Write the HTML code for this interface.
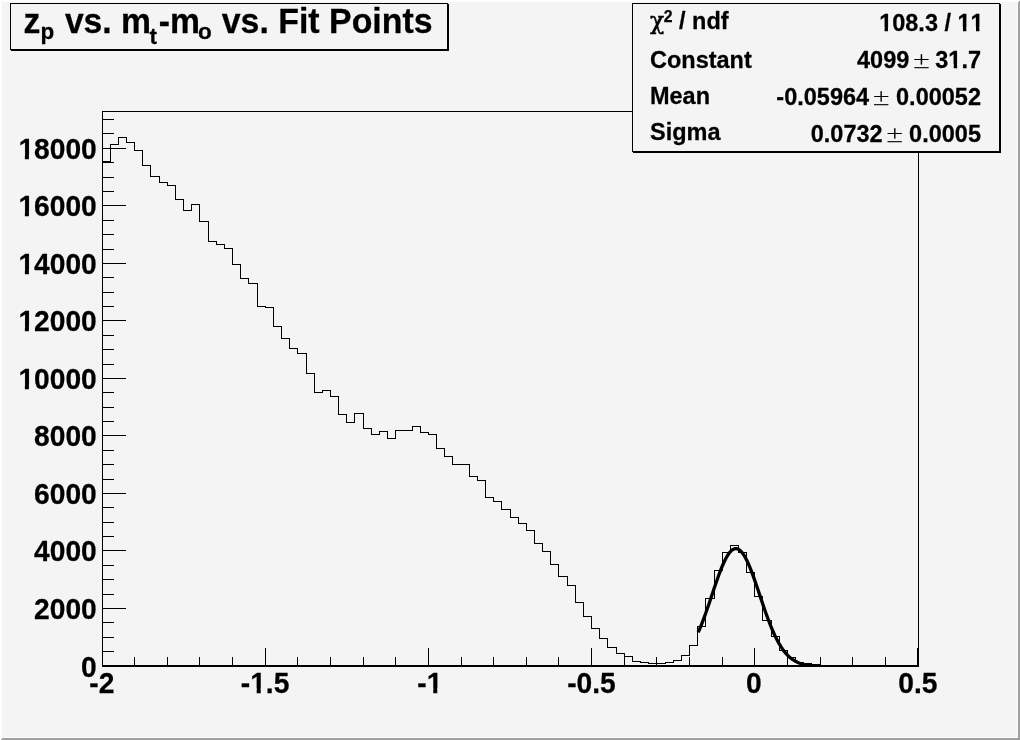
<!DOCTYPE html>
<html><head><meta charset="utf-8"><title>z_p vs. m_t-m_o vs. Fit Points</title>
<style>html,body{margin:0;padding:0;background:#f4f4f4;overflow:hidden}svg{display:block;filter:grayscale(1)}text{font-family:"Liberation Sans",sans-serif;font-weight:bold;fill:#000;font-kerning:none;stroke:#000;stroke-width:0.25px}.sym2{font-family:"DejaVu Serif","Liberation Serif",serif;font-weight:normal;font-style:normal;stroke:#000;stroke-width:0.5px}.pm{font-family:"DejaVu Sans Light","DejaVu Sans",sans-serif;font-weight:200;stroke:#000;stroke-width:0.35px}.cr{shape-rendering:crispEdges}</style></head><body>
<svg width="1020" height="740" viewBox="0 0 1020 740">
<rect x="0" y="0" width="1020" height="740" fill="#f4f4f4"/>
<g class="cr">
<rect x="0" y="0" width="1020" height="2" fill="#fdfdfd"/>
<rect x="0" y="0" width="2" height="740" fill="#fdfdfd"/>
<polygon points="1020,0 1020,740 0,740 2,738 1018,738 1018,2" fill="#a0a0a0"/>
<rect x="2" y="737" width="1015" height="1" fill="#fbfbfb"/>
<rect x="1017" y="2" width="1" height="736" fill="#fbfbfb"/>
</g>
<g class="cr" fill="none" stroke="#000" stroke-width="1">
<rect x="102.5" y="111.5" width="816" height="554"/>
<line x1="102" y1="666.5" x2="919" y2="666.5"/>
<line x1="102.5" y1="648" x2="102.5" y2="667"/>
<line x1="134.5" y1="657" x2="134.5" y2="667"/>
<line x1="167.5" y1="657" x2="167.5" y2="667"/>
<line x1="199.5" y1="657" x2="199.5" y2="667"/>
<line x1="232.5" y1="657" x2="232.5" y2="667"/>
<line x1="265.5" y1="648" x2="265.5" y2="667"/>
<line x1="297.5" y1="657" x2="297.5" y2="667"/>
<line x1="330.5" y1="657" x2="330.5" y2="667"/>
<line x1="363.5" y1="657" x2="363.5" y2="667"/>
<line x1="395.5" y1="657" x2="395.5" y2="667"/>
<line x1="428.5" y1="648" x2="428.5" y2="667"/>
<line x1="461.5" y1="657" x2="461.5" y2="667"/>
<line x1="493.5" y1="657" x2="493.5" y2="667"/>
<line x1="526.5" y1="657" x2="526.5" y2="667"/>
<line x1="558.5" y1="657" x2="558.5" y2="667"/>
<line x1="591.5" y1="648" x2="591.5" y2="667"/>
<line x1="624.5" y1="657" x2="624.5" y2="667"/>
<line x1="656.5" y1="657" x2="656.5" y2="667"/>
<line x1="689.5" y1="657" x2="689.5" y2="667"/>
<line x1="722.5" y1="657" x2="722.5" y2="667"/>
<line x1="754.5" y1="648" x2="754.5" y2="667"/>
<line x1="787.5" y1="657" x2="787.5" y2="667"/>
<line x1="820.5" y1="657" x2="820.5" y2="667"/>
<line x1="852.5" y1="657" x2="852.5" y2="667"/>
<line x1="885.5" y1="657" x2="885.5" y2="667"/>
<line x1="918.5" y1="648" x2="918.5" y2="667"/>
<line x1="917.5" y1="648" x2="917.5" y2="667"/>
<line x1="102" y1="666.5" x2="126" y2="666.5"/>
<line x1="102" y1="651.5" x2="114" y2="651.5"/>
<line x1="102" y1="637.5" x2="114" y2="637.5"/>
<line x1="102" y1="622.5" x2="114" y2="622.5"/>
<line x1="102" y1="608.5" x2="126" y2="608.5"/>
<line x1="102" y1="594.5" x2="114" y2="594.5"/>
<line x1="102" y1="579.5" x2="114" y2="579.5"/>
<line x1="102" y1="565.5" x2="114" y2="565.5"/>
<line x1="102" y1="550.5" x2="126" y2="550.5"/>
<line x1="102" y1="536.5" x2="114" y2="536.5"/>
<line x1="102" y1="522.5" x2="114" y2="522.5"/>
<line x1="102" y1="507.5" x2="114" y2="507.5"/>
<line x1="102" y1="493.5" x2="126" y2="493.5"/>
<line x1="102" y1="479.5" x2="114" y2="479.5"/>
<line x1="102" y1="464.5" x2="114" y2="464.5"/>
<line x1="102" y1="450.5" x2="114" y2="450.5"/>
<line x1="102" y1="435.5" x2="126" y2="435.5"/>
<line x1="102" y1="421.5" x2="114" y2="421.5"/>
<line x1="102" y1="407.5" x2="114" y2="407.5"/>
<line x1="102" y1="392.5" x2="114" y2="392.5"/>
<line x1="102" y1="378.5" x2="126" y2="378.5"/>
<line x1="102" y1="364.5" x2="114" y2="364.5"/>
<line x1="102" y1="349.5" x2="114" y2="349.5"/>
<line x1="102" y1="335.5" x2="114" y2="335.5"/>
<line x1="102" y1="320.5" x2="126" y2="320.5"/>
<line x1="102" y1="306.5" x2="114" y2="306.5"/>
<line x1="102" y1="292.5" x2="114" y2="292.5"/>
<line x1="102" y1="277.5" x2="114" y2="277.5"/>
<line x1="102" y1="263.5" x2="126" y2="263.5"/>
<line x1="102" y1="249.5" x2="114" y2="249.5"/>
<line x1="102" y1="234.5" x2="114" y2="234.5"/>
<line x1="102" y1="220.5" x2="114" y2="220.5"/>
<line x1="102" y1="205.5" x2="126" y2="205.5"/>
<line x1="102" y1="191.5" x2="114" y2="191.5"/>
<line x1="102" y1="177.5" x2="114" y2="177.5"/>
<line x1="102" y1="162.5" x2="114" y2="162.5"/>
<line x1="102" y1="148.5" x2="126" y2="148.5"/>
<line x1="102" y1="133.5" x2="114" y2="133.5"/>
<line x1="102" y1="119.5" x2="114" y2="119.5"/>
<polyline points="102.5,666.5 102.5,161.5 110.5,161.5 110.5,144.5 118.5,144.5 118.5,137.5 126.5,137.5 126.5,142.5 134.5,142.5 134.5,150.5 142.5,150.5 142.5,165.5 150.5,165.5 150.5,176.5 159.5,176.5 159.5,182.5 167.5,182.5 167.5,185.5 175.5,185.5 175.5,199.5 183.5,199.5 183.5,210.5 191.5,210.5 191.5,204.5 199.5,204.5 199.5,221.5 208.5,221.5 208.5,241.5 216.5,241.5 216.5,244.5 224.5,244.5 224.5,248.5 232.5,248.5 232.5,264.5 240.5,264.5 240.5,278.5 248.5,278.5 248.5,283.5 257.5,283.5 257.5,306.5 265.5,306.5 265.5,307.5 273.5,307.5 273.5,326.5 281.5,326.5 281.5,338.5 289.5,338.5 289.5,348.5 297.5,348.5 297.5,353.5 306.5,353.5 306.5,373.5 314.5,373.5 314.5,392.5 322.5,392.5 322.5,390.5 330.5,390.5 330.5,396.5 338.5,396.5 338.5,414.5 346.5,414.5 346.5,422.5 354.5,422.5 354.5,413.5 363.5,413.5 363.5,428.5 371.5,428.5 371.5,434.5 379.5,434.5 379.5,431.5 387.5,431.5 387.5,438.5 395.5,438.5 395.5,430.5 403.5,430.5 403.5,430.5 412.5,430.5 412.5,426.5 420.5,426.5 420.5,432.5 428.5,432.5 428.5,434.5 436.5,434.5 436.5,448.5 444.5,448.5 444.5,456.5 452.5,456.5 452.5,464.5 461.5,464.5 461.5,464.5 469.5,464.5 469.5,476.5 477.5,476.5 477.5,480.5 485.5,480.5 485.5,497.5 493.5,497.5 493.5,501.5 501.5,501.5 501.5,509.5 510.5,509.5 510.5,517.5 518.5,517.5 518.5,523.5 526.5,523.5 526.5,530.5 534.5,530.5 534.5,543.5 542.5,543.5 542.5,551.5 550.5,551.5 550.5,564.5 558.5,564.5 558.5,576.5 567.5,576.5 567.5,585.5 575.5,585.5 575.5,602.5 583.5,602.5 583.5,616.5 591.5,616.5 591.5,628.5 599.5,628.5 599.5,638.5 607.5,638.5 607.5,647.5 616.5,647.5 616.5,653.5 624.5,653.5 624.5,656.5 632.5,656.5 632.5,661.5 640.5,661.5 640.5,662.5 648.5,662.5 648.5,663.5 656.5,663.5 656.5,663.5 665.5,663.5 665.5,662.5 673.5,662.5 673.5,660.5 681.5,660.5 681.5,655.5 689.5,655.5 689.5,645.5 697.5,645.5 697.5,626.5 705.5,626.5 705.5,598.5 714.5,598.5 714.5,570.5 722.5,570.5 722.5,552.5 730.5,552.5 730.5,545.5 738.5,545.5 738.5,552.5 746.5,552.5 746.5,572.5 754.5,572.5 754.5,596.5 762.5,596.5 762.5,620.5 771.5,620.5 771.5,636.5 779.5,636.5 779.5,650.5 787.5,650.5 787.5,657.5 795.5,657.5 795.5,662.5 803.5,662.5 803.5,663.5 811.5,663.5 811.5,664.5 820.5,664.5 820.5,665.5 828.5,665.5 828.5,665.5 836.5,665.5 836.5,665.5 844.5,665.5 844.5,665.5 852.5,665.5 852.5,665.5 860.5,665.5 860.5,665.5 869.5,665.5 869.5,665.5 877.5,665.5 877.5,665.5 885.5,665.5 885.5,665.5 893.5,665.5 893.5,665.5 901.5,665.5 901.5,665.5 909.5,665.5 909.5,665.5 918.5,665.5"/>
</g>
<clipPath id="fc"><rect x="102" y="111" width="817" height="556"/></clipPath>
<polyline clip-path="url(#fc)" fill="none" stroke="#000" stroke-width="3.3" stroke-linejoin="round" points="698.18,632.45 699.40,629.63 700.63,626.69 701.85,623.63 703.08,620.45 704.30,617.16 705.52,613.78 706.75,610.31 707.97,606.78 709.20,603.18 710.42,599.55 711.64,595.89 712.87,592.23 714.09,588.58 715.32,584.97 716.54,581.42 717.76,577.94 718.99,574.56 720.21,571.31 721.44,568.19 722.66,565.24 723.88,562.48 725.11,559.92 726.33,557.58 727.56,555.49 728.78,553.65 730.00,552.08 731.23,550.79 732.45,549.80 733.68,549.10 734.90,548.71 736.12,548.63 737.35,548.86 738.57,549.39 739.80,550.23 741.02,551.37 742.24,552.79 743.47,554.49 744.69,556.45 745.92,558.66 747.14,561.11 748.36,563.77 749.59,566.62 750.81,569.65 752.04,572.84 753.26,576.15 754.48,579.58 755.71,583.10 756.93,586.68 758.16,590.31 759.38,593.97 760.60,597.63 761.83,601.28 763.05,604.89 764.28,608.46 765.50,611.97 766.72,615.40 767.95,618.73 769.17,621.97 770.40,625.10 771.62,628.10 772.84,630.99 774.07,633.74 775.29,636.36 776.52,638.84 777.74,641.18 778.96,643.39 780.19,645.46 781.41,647.39 782.64,649.19 783.86,650.87 785.08,652.42 786.31,653.84 787.53,655.16 788.76,656.36 789.98,657.46 791.20,658.46 792.43,659.37 793.65,660.19 794.88,660.94 796.10,661.60 797.32,662.20 798.55,662.74 799.77,663.22 801.00,663.64 802.22,664.02 803.44,664.35 804.67,664.64 805.89,664.90 807.12,665.12 808.34,665.32 809.56,665.49 810.79,665.64 812.01,665.77 813.24,665.88 814.46,665.98 815.68,666.06 816.91,666.13 818.13,666.19 819.36,666.24 820.58,666.28"/>
<text x="96.8" y="676.9" font-size="28.2" text-anchor="end" transform="matrix(1 0 0 1.028 0 -18.953)">0</text>
<text x="96.8" y="618.9" font-size="28.2" text-anchor="end" transform="matrix(1 0 0 1.028 0 -17.329)">2000</text>
<text x="96.8" y="560.9" font-size="28.2" text-anchor="end" transform="matrix(1 0 0 1.028 0 -15.705)">4000</text>
<text x="96.8" y="503.9" font-size="28.2" text-anchor="end" transform="matrix(1 0 0 1.028 0 -14.109)">6000</text>
<text x="96.8" y="445.9" font-size="28.2" text-anchor="end" transform="matrix(1 0 0 1.028 0 -12.485)">8000</text>
<text x="96.8" y="388.9" font-size="28.2" text-anchor="end" transform="matrix(1 0 0 1.028 0 -10.889)">10000</text>
<text x="96.8" y="330.9" font-size="28.2" text-anchor="end" transform="matrix(1 0 0 1.028 0 -9.265)">12000</text>
<text x="96.8" y="273.9" font-size="28.2" text-anchor="end" transform="matrix(1 0 0 1.028 0 -7.669)">14000</text>
<text x="96.8" y="215.9" font-size="28.2" text-anchor="end" transform="matrix(1 0 0 1.028 0 -6.045)">16000</text>
<text x="96.8" y="158.9" font-size="28.2" text-anchor="end" transform="matrix(1 0 0 1.028 0 -4.449)">18000</text>
<text x="101.9" y="692.6" font-size="28.2" text-anchor="middle" transform="matrix(1 0 0 1.028 0 -19.393)">-2</text>
<text x="265.1" y="692.6" font-size="28.2" text-anchor="middle" transform="matrix(1 0 0 1.028 0 -19.393)">-1.5</text>
<text x="429.9" y="692.6" font-size="28.2" text-anchor="middle" transform="matrix(1 0 0 1.028 0 -19.393)">-1</text>
<text x="591.5" y="692.6" font-size="28.2" text-anchor="middle" transform="matrix(1 0 0 1.028 0 -19.393)">-0.5</text>
<text x="753.9" y="692.6" font-size="28.2" text-anchor="middle" transform="matrix(1 0 0 1.028 0 -19.393)">0</text>
<text x="917.9" y="692.6" font-size="28.2" text-anchor="middle" transform="matrix(1 0 0 1.028 0 -19.393)">0.5</text>
<g class="cr"><rect x="11" y="4" width="438" height="47" fill="#000"/><rect x="10" y="3" width="438" height="47" fill="#000"/><rect x="11" y="4" width="436" height="45" fill="#f4f4f4"/></g>
<text x="23.50" y="32.8" font-size="33.7" transform="matrix(1 0 0 1.02 0 -0.656)">z</text>
<text x="40.50" y="39.3" font-size="22.5" transform="matrix(1 0 0 1.02 0 -0.786)">p</text>
<text x="64.90" y="32.8" font-size="33.7" transform="matrix(1 0 0 1.02 0 -0.656)">vs.</text>
<text x="121.00" y="32.8" font-size="33.7" transform="matrix(1 0 0 1.02 0 -0.656)">m</text>
<text x="149.50" y="44.0" font-size="22.5" transform="matrix(1 0 0 1.02 0 -0.880)">t</text>
<text x="158.70" y="32.8" font-size="33.7" transform="matrix(1 0 0 1.02 0 -0.656)">-m</text>
<text x="198.00" y="39.5" font-size="22.5" transform="matrix(1 0 0 1.02 0 -0.790)">o</text>
<text x="221.70" y="32.8" font-size="33.9" transform="matrix(1 0 0 1.02 0 -0.656)">vs. Fit Points</text>
<g class="cr"><rect x="633" y="4" width="368" height="149" fill="#000"/><rect x="632" y="3" width="368" height="149" fill="#000"/><rect x="633" y="4" width="366" height="147" fill="#f4f4f4"/></g>
<text x="649.9" y="29.0" font-size="23.5" class="sym2">χ</text>
<text x="663.8" y="21.8" font-size="15.8">2</text>
<text x="679.0" y="29.2" font-size="23.5" transform="matrix(1 0 0 1.02 0 -0.584)">/ ndf</text>
<text x="983.7" y="30.6" font-size="23.5" text-anchor="end" transform="matrix(1 0 0 1.028 0 -0.857)">108.3 / 11</text>
<text x="650" y="67.8" font-size="23.5" transform="matrix(1 0 0 1.02 0 -1.356)">Constant</text>
<text x="909.3" y="67.7" font-size="23.5" text-anchor="end" transform="matrix(1 0 0 1.028 0 -1.896)">4099</text>
<text x="921.5" y="67.7" font-size="22" text-anchor="middle" class="pm">±</text>
<text x="981.0" y="67.7" font-size="23.5" text-anchor="end" transform="matrix(1 0 0 1.028 0 -1.896)">31.7</text>
<text x="650" y="104.4" font-size="23.5" transform="matrix(1 0 0 1.02 0 -2.088)">Mean</text>
<text x="869.1" y="104.6" font-size="23.5" text-anchor="end" transform="matrix(1 0 0 1.028 0 -2.929)">-0.05964</text>
<text x="881.3" y="104.6" font-size="22" text-anchor="middle" class="pm">±</text>
<text x="981.0" y="104.6" font-size="23.5" text-anchor="end" transform="matrix(1 0 0 1.028 0 -2.929)">0.00052</text>
<text x="650" y="139.7" font-size="23.5" transform="matrix(1 0 0 1.02 0 -2.794)">Sigma</text>
<text x="882.6" y="141.7" font-size="23.5" text-anchor="end" transform="matrix(1 0 0 1.028 0 -3.968)">0.0732</text>
<text x="894.8" y="141.7" font-size="22" text-anchor="middle" class="pm">±</text>
<text x="981.0" y="141.7" font-size="23.5" text-anchor="end" transform="matrix(1 0 0 1.028 0 -3.968)">0.0005</text>
<rect x="18.95" y="384.67" width="5.91" height="7.33" fill="#f4f4f4"/>
<rect x="28.92" y="384.67" width="5.82" height="7.33" fill="#f4f4f4"/>
<rect x="18.95" y="326.67" width="5.91" height="7.33" fill="#f4f4f4"/>
<rect x="28.92" y="326.67" width="5.82" height="7.33" fill="#f4f4f4"/>
<rect x="18.95" y="269.67" width="5.91" height="7.33" fill="#f4f4f4"/>
<rect x="28.92" y="269.67" width="5.82" height="7.33" fill="#f4f4f4"/>
<rect x="18.95" y="211.67" width="5.91" height="7.33" fill="#f4f4f4"/>
<rect x="28.92" y="211.67" width="5.82" height="7.33" fill="#f4f4f4"/>
<rect x="18.95" y="154.67" width="5.91" height="7.33" fill="#f4f4f4"/>
<rect x="28.92" y="154.67" width="5.82" height="7.33" fill="#f4f4f4"/>
<rect x="250.76" y="688.37" width="5.91" height="7.33" fill="#f4f4f4"/>
<rect x="260.73" y="688.37" width="5.82" height="7.33" fill="#f4f4f4"/>
<rect x="427.32" y="688.37" width="5.91" height="7.33" fill="#f4f4f4"/>
<rect x="437.29" y="688.37" width="5.82" height="7.33" fill="#f4f4f4"/>
<rect x="879.64" y="27.08" width="4.91" height="6.11" fill="#f4f4f4"/>
<rect x="887.96" y="27.08" width="4.83" height="6.11" fill="#f4f4f4"/>
<rect x="958.03" y="27.08" width="4.91" height="6.11" fill="#f4f4f4"/>
<rect x="966.36" y="27.08" width="4.83" height="6.11" fill="#f4f4f4"/>
<rect x="971.10" y="27.08" width="4.91" height="6.11" fill="#f4f4f4"/>
<rect x="979.43" y="27.08" width="4.83" height="6.11" fill="#f4f4f4"/>
<rect x="948.80" y="64.17" width="4.91" height="6.11" fill="#f4f4f4"/>
<rect x="957.13" y="64.17" width="4.83" height="6.11" fill="#f4f4f4"/>
</svg></body></html>
